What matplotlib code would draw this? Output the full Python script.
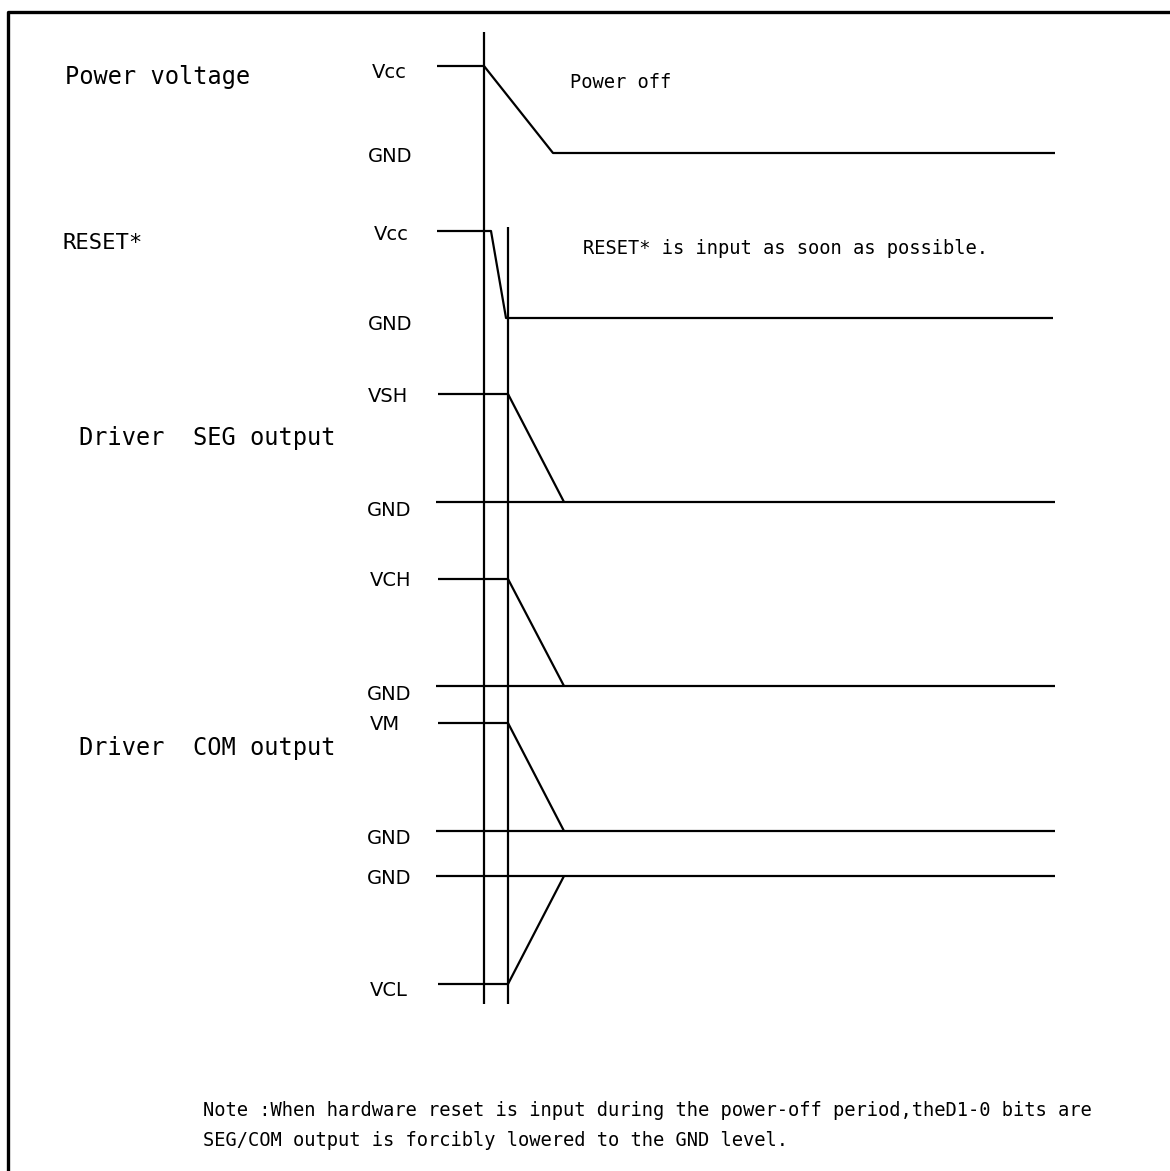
import matplotlib.pyplot as plt

# --- data (pixel layout of the timing diagram) ---
t_power_off = 484
t_reset = 508
marker_tops = [32, 227]
marker_bottom = 1004

# waveforms: (x points, y points)
power_x = [437, 484, 553, 1055]
power_y = [66, 66, 153, 153]
reset_x = [437, 491, 506, 1053]
reset_y = [231, 231, 318, 318]

ramp_x = [438, 508, 564]
seg_y = [394, 394, 502]
vch_y = [579, 579, 686]
vm_y = [723, 723, 831]
vcl_y = [984, 984, 876]

gnd_levels = [502, 686, 831, 876]
gnd_x = [436, 1055]

level_labels = ["Vcc", "GND", "Vcc", "GND", "VSH", "GND", "VCH", "GND", "VM", "GND", "GND", "VCL"]
level_label_x = [372, 368, 374, 368, 368, 367, 370, 367, 370, 367, 367, 370]
level_label_y = [72, 157, 234, 325, 397, 510, 581, 694, 725, 839, 878, 991]

signal_names = ["Power voltage", "RESET*", "Driver  SEG output", "Driver  COM output"]
signal_x = [65, 62, 79, 79]
signal_y = [77, 243, 438, 748]
signal_size = [17, 16, 17, 17]

notes = ["Power off", "RESET* is input as soon as possible."]
notes_x = [570, 583]
notes_y = [82, 248]

footnote = ["Note :When hardware reset is input during the power-off period,theD1-0 bits are",
            "SEG/COM output is forcibly lowered to the GND level."]
footnote_x = 203
footnote_y = [1111, 1140]

W, H = 1170, 1171
fig = plt.figure(figsize=(W / 100, H / 100), dpi=100)
ax = fig.add_axes([0, 0, 1, 1])
ax.set_xlim(0, W)
ax.set_ylim(H, 0)
ax.axis('off')

lw = 1.6
kw = dict(color='black', lw=lw, solid_capstyle='butt')

# frame (only top/left visible)
ax.plot([8, 8, W + 10], [H + 10, 12, 12], color='black', lw=2.4)

# time markers
ax.plot([t_power_off, t_power_off], [marker_tops[0], marker_bottom], **kw)
ax.plot([t_reset, t_reset], [marker_tops[1], marker_bottom], **kw)

# waveforms
ax.plot(power_x, power_y, **kw)
ax.plot(reset_x, reset_y, **kw)
for ys in [seg_y, vch_y, vm_y, vcl_y]:
    ax.plot(ramp_x, ys, **kw)
for g in gnd_levels:
    ax.plot(gnd_x, [g, g], **kw)

mono = 'DejaVu Sans Mono'
narrow = ['Liberation Sans Narrow', 'DejaVu Sans']

for s, x, y in zip(level_labels, level_label_x, level_label_y):
    ax.text(x, y, s, ha='left', va='center', fontsize=14, family=narrow)

for s, x, y, fs in zip(signal_names, signal_x, signal_y, signal_size):
    ax.text(x, y, s, ha='left', va='center', fontsize=fs, family=mono)

for s, x, y in zip(notes, notes_x, notes_y):
    ax.text(x, y, s, ha='left', va='center', fontsize=13.5, family=mono)

for s, y in zip(footnote, footnote_y):
    ax.text(footnote_x, y, s, ha='left', va='center', fontsize=13.5, family=mono)

fig.savefig('out.png', dpi=100)
